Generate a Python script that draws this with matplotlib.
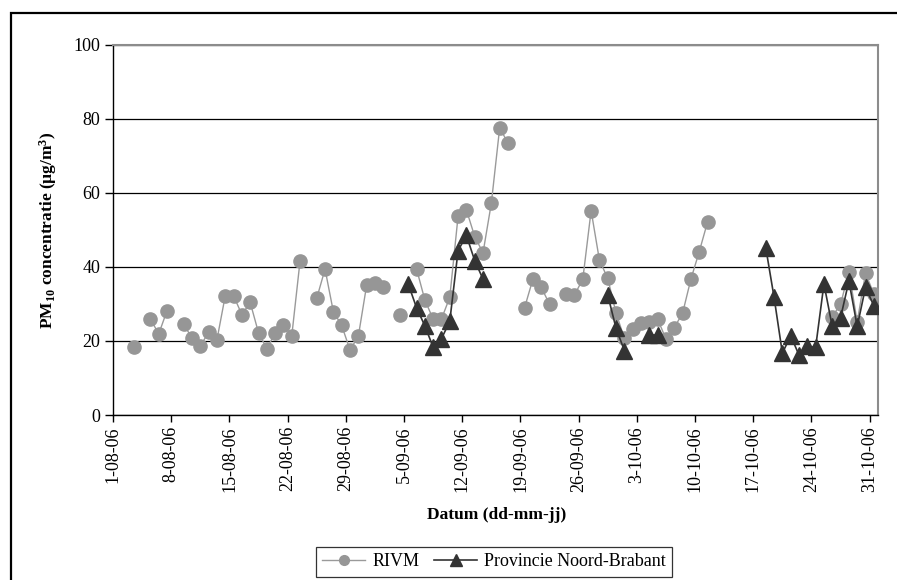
import numpy as np
import pandas as pd
import matplotlib
matplotlib.use('Agg')
import matplotlib.pyplot as plt
import matplotlib.dates as mdates
from matplotlib.patches import Rectangle
from matplotlib.lines import Line2D

plt.rcParams['font.family'] = ['Liberation Serif', 'DejaVu Serif']
plt.rcParams['mathtext.fontset'] = 'custom'
plt.rcParams['mathtext.rm'] = 'Liberation Serif:bold'
plt.rcParams['mathtext.default'] = 'rm'

# meetdata (dag-maand 2006), PM10 in ug/m3
rivm_datum = ['03-08', '05-08', '06-08', '07-08', '09-08', '10-08', '11-08', '12-08', '13-08',
              '14-08', '15-08', '16-08', '17-08', '18-08', '19-08', '20-08', '21-08', '22-08',
              '23-08', '25-08', '26-08', '27-08', '28-08', '29-08', '30-08', '31-08',
              '01-09', '02-09', '04-09', '06-09', '07-09', '08-09', '09-09', '10-09', '11-09',
              '12-09', '13-09', '14-09', '15-09', '16-09', '17-09', '19-09', '20-09', '21-09',
              '22-09', '24-09', '25-09', '26-09', '27-09', '28-09', '29-09', '30-09',
              '01-10', '02-10', '03-10', '04-10', '05-10', '06-10', '07-10', '08-10', '09-10',
              '10-10', '11-10', '26-10', '27-10', '28-10', '29-10', '30-10', '31-10']
rivm_pm10 = [18.3, 25.9, 21.9, 28.2, 24.6, 20.7, 18.7, 22.3, 20.3,
             32.2, 32.2, 27.1, 30.4, 22.2, 17.9, 22.2, 24.3, 21.4,
             41.7, 31.5, 39.4, 27.9, 24.2, 17.6, 21.2, 35.0,
             35.6, 34.6, 27.1, 39.5, 31.1, 25.9, 25.9, 31.8, 53.7,
             55.4, 48.2, 43.8, 57.2, 77.5, 73.5, 29.0, 36.7, 34.5,
             29.9, 32.7, 32.4, 36.7, 55.2, 41.8, 36.9, 27.5,
             20.7, 23.2, 24.8, 25.2, 25.9, 20.5, 23.6, 27.5, 36.7,
             44.1, 52.1, 26.6, 29.9, 38.7, 25.2, 38.3, 32.7]

nb_datum = ['05-09', '06-09', '07-09', '08-09', '09-09', '10-09', '11-09', '12-09', '13-09',
            '14-09', '29-09', '30-09', '01-10', '04-10', '05-10', '18-10', '19-10', '20-10',
            '21-10', '22-10', '23-10', '24-10', '25-10', '26-10', '27-10', '28-10', '29-10',
            '30-10', '31-10']
nb_pm10 = [35.4, 29.0, 24.1, 18.3, 20.6, 25.3, 44.4, 48.5, 41.7,
           36.7, 32.4, 23.4, 17.4, 21.6, 21.6, 45.2, 31.8, 16.7,
           21.4, 16.2, 18.5, 18.3, 35.4, 23.9, 26.3, 36.2, 23.9,
           34.5, 29.5]

alle_dagen = pd.date_range('2006-08-01', '2006-10-31', freq='D')


def reeks(datum, waarden):
    # ontbrekende dagen worden NaN, zodat de lijn onderbroken wordt
    idx = pd.to_datetime([d + '-2006' for d in datum], format='%d-%m-%Y')
    s = pd.Series(waarden, index=idx).reindex(alle_dagen)
    return s


rivm = reeks(rivm_datum, rivm_pm10)
nb = reeks(nb_datum, nb_pm10)

fig = plt.figure(figsize=(8.97, 5.80), dpi=100)
W, H = 897.0, 580.0

# kader rond de hele grafiek
fig.patches.append(Rectangle((11 / W, -0.1), 1.2, 1 - 13 / H + 0.1, transform=fig.transFigure,
                             fill=False, edgecolor='black', linewidth=1.6))

ax = fig.add_axes([113 / W, 1 - 415 / H, (878 - 113) / W, (415 - 44.7) / H])

# punten midden op de dag (datum-as tussen de streepjes)
x = alle_dagen + pd.Timedelta(hours=12)
ax.plot(x, rivm.values, color='#9a9a9a', lw=1.0, marker='o', ms=9.5,
        mfc='#969696', mec='#969696', zorder=3)
ax.plot(x, nb.values, color='#333333', lw=1.2, marker='^', ms=11.5,
        mfc='#333333', mec='#333333', zorder=4)

ax.set_xlim(pd.Timestamp('2006-08-01'), pd.Timestamp('2006-11-01'))
ax.set_ylim(0, 100)
ax.set_yticks(np.arange(0, 101, 20))
ax.yaxis.grid(True, color='black', lw=0.9)
ax.set_axisbelow(True)

tick_dagen = pd.date_range('2006-08-01', '2006-10-31', freq='7D')
ax.set_xticks(tick_dagen)
ax.set_xticklabels([f"{d.day}-{d.month:02d}-{d.strftime('%y')}" for d in tick_dagen],
                   rotation=90, fontsize=13)
ax.tick_params(axis='y', labelsize=13, length=6, width=1, direction='out', pad=3)
ax.tick_params(axis='x', length=5, width=1, direction='out', pad=3)

for kant in ['left', 'bottom']:
    ax.spines[kant].set_color('black')
    ax.spines[kant].set_linewidth(1.0)
for kant in ['top', 'right']:
    ax.spines[kant].set_color('#8c8c8c')
    ax.spines[kant].set_linewidth(1.5)

fig.text(48 / W, 1 - 230 / H, 'PM$_{10}$ concentratie (µg/m$^{3}$)', rotation=90,
         ha='center', va='center', fontsize=12.5, fontweight='bold')
fig.text(497 / W, 1 - 515 / H, 'Datum (dd-mm-jj)', ha='center', va='center',
         fontsize=12.5, fontweight='bold')

handles = [Line2D([], [], color='#9a9a9a', lw=1.0, marker='o', ms=7, mfc='#969696', mec='#969696'),
           Line2D([], [], color='#333333', lw=1.2, marker='^', ms=8.5, mfc='#333333', mec='#333333')]
leg = fig.legend(handles, ['RIVM', 'Provincie Noord-Brabant'], loc='upper center',
                 bbox_to_anchor=(494 / W, 1 - 547 / H), ncol=2, fontsize=13,
                 frameon=True, fancybox=False, edgecolor='black', handlelength=2.4,
                 columnspacing=0.8, handletextpad=0.4, borderpad=0.35, borderaxespad=0)
leg.get_frame().set_linewidth(0.9)

fig.savefig('out.png', dpi=100)
